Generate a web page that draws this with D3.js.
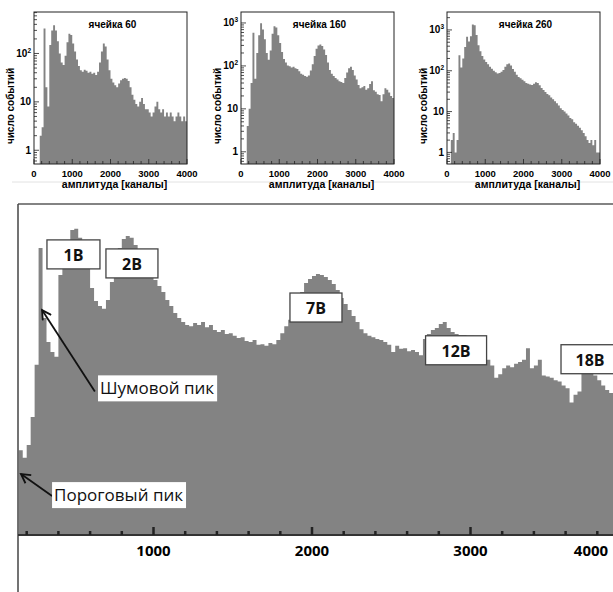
<!DOCTYPE html>
<html>
<head>
<meta charset="utf-8">
<script src="https://cdn.jsdelivr.net/npm/d3@7"></script>
<style>
  body { margin: 0; background: #fff; }
  svg { display: block; }
</style>
</head>
<body>
<svg width="613" height="592"></svg>
<script>
// ---- data ----
// small panels: 50-channel bins from 0 to 4000
const smallBinWidth = 50;
const cell60 = [
  0, 0, 0, 2, 3, 330, 20, 8, 150, 300,
  385, 300, 180, 100, 65, 58, 90, 170, 255, 240,
  160, 110, 75, 55, 45, 42, 46, 44, 40, 42,
  38, 40, 36, 42, 65, 110, 160, 140, 75, 45,
  30, 25, 22, 20, 24, 28, 30, 31, 30, 27,
  20, 14, 11, 9, 8, 10, 12, 9, 7, 7,
  6, 5, 6, 8, 10, 7, 6, 7, 5, 6,
  5, 6, 5, 4, 5, 6, 5, 4, 5, 4
];
const cell160 = [
  0, 0, 0, 4, 10, 40, 590, 50, 200, 520,
  980, 700, 420, 200, 140, 230, 560, 840, 780, 520,
  340, 210, 145, 120, 102, 98, 92, 95, 88, 85,
  75, 66, 62, 58, 56, 60, 78, 110, 170, 250,
  300, 315, 290, 240, 180, 120, 80, 66, 58, 52,
  48, 44, 42, 40, 52, 70, 88, 96, 80, 60,
  48, 36, 30, 32, 34, 28, 30, 38, 44, 27,
  25, 22, 21, 15, 22, 30, 28, 24, 20, 18
];
const cell260 = [
  0, 0, 2, 3, 1, 2, 240, 120, 200, 380,
  680, 520, 700, 1350, 1300, 750, 420, 300, 230, 190,
  165, 145, 125, 112, 100, 92, 86, 88, 95, 105,
  125, 145, 150, 135, 110, 95, 80, 70, 66, 60,
  55, 50, 48, 46, 45, 48, 52, 50, 44, 38,
  34, 30, 27, 25, 22, 20, 18, 16, 14, 12,
  11, 10, 9, 8, 7, 6.5, 5.5, 5, 4.5, 4,
  3.5, 3, 2.5, 2, 1.7, 2, 1.5, 2, 1, 1
];
const panelTitles = ["ячейка 60", "ячейка 160", "ячейка 260"];
const panelYMax = [720, 1800, 2750];
const panelYTicks = [[1, 10, 100], [1, 10, 100, 1000], [1, 10, 100, 1000]];
const smallXTicks = [0, 1000, 2000, 3000, 4000];

// big panel: 25-channel bins starting at channel 150
const bigBinStart = 150;
const bigBinWidth = 25;
const bigCounts = [
  7.0, 5.9, 7.9, 15, 50, 729, 146, 84, 67, 60,
  392, 580, 781, 1102, 1130, 920, 665, 461, 291, 216,
  192, 180, 221, 334, 493, 729, 897, 961, 920, 781,
  621, 528, 461, 392, 350, 305, 265, 221, 192, 164,
  146, 133, 124, 121, 130, 124, 133, 118, 124, 111,
  106, 111, 101, 103, 97, 92, 94, 86, 84, 88,
  79, 80, 77, 82, 80, 88, 103, 121, 140, 168,
  211, 265, 326, 358, 383, 401, 392, 375, 350, 319,
  278, 231, 201, 175, 153, 133, 113, 103, 97, 94,
  90, 88, 84, 79, 67, 77, 72, 73, 68, 70,
  67, 62, 90, 101, 111, 116, 127, 133, 116, 106,
  101, 99, 99, 97, 97, 94, 88, 53, 56, 49,
  37, 40, 46, 49, 47, 51, 53, 56, 73, 46,
  49, 56, 39, 38, 37, 35, 34, 31, 29, 21,
  25, 27, 42, 42, 41, 39, 35, 31, 28, 26
];
const bigMajorTicks = [1000, 2000, 3000, 4000];

// annotation boxes on the big panel
const peakLabels = ["1В", "2В", "7В", "12В", "18В"];
const peakChannel = [495, 864, 2025, 2909, 3754];   // box centre
const peakTopCount = [877, 713, 259, 97, 79];        // box top
const peakBoxWidth = [53, 52, 52, 61, 58];

const calloutTexts = ["Шумовой пик", "Пороговый пик"];
const calloutChannel = [650, 360];     // left edge of text box
const calloutCount = [29, 2.5];        // text centre
const arrowTipChannel = [297, 164];
const arrowTipCount = [175, 4.06];
const arrowFromChannel = [630, 360];
const arrowFromCount = [27, 2.45];

const svg = d3.select("svg");
const histColor = "#838383";

// ---------- small panels ----------
const smallLeft = [34, 241, 447], smallRight = [187, 394, 600];
const smallTop = 12, smallBottom = 164;
const smallData = [cell60, cell160, cell260];

// faint separator line under the small panels
svg.append("line")
  .attr("x1", 12).attr("x2", 613).attr("y1", 182).attr("y2", 182)
  .attr("stroke", "#e2e2e2").attr("stroke-width", 1);

smallData.forEach((counts, p) => {
  const g = svg.append("g");
  const x = d3.scaleLinear().domain([0, 4000]).range([smallLeft[p], smallRight[p]]);
  const y = d3.scaleLog().domain([0.52, panelYMax[p]]).range([smallBottom, smallTop]).clamp(true);

  const clipId = "clip" + p;
  g.append("clipPath").attr("id", clipId).append("rect")
    .attr("x", smallLeft[p]).attr("y", smallTop)
    .attr("width", smallRight[p] - smallLeft[p]).attr("height", smallBottom - smallTop);

  const pts = counts.map((v, i) => [i * smallBinWidth, v]);
  pts.push([counts.length * smallBinWidth, counts[counts.length - 1]]);
  const area = d3.area()
    .x(d => x(d[0]))
    .y0(smallBottom)
    .y1(d => y(Math.max(d[1], 0.52)))
    .curve(d3.curveStepAfter);
  g.append("path")
    .attr("clip-path", `url(#${clipId})`)
    .attr("d", area(pts))
    .attr("fill", histColor);

  // frame
  g.append("rect")
    .attr("x", smallLeft[p]).attr("y", smallTop)
    .attr("width", smallRight[p] - smallLeft[p]).attr("height", smallBottom - smallTop)
    .attr("fill", "none").attr("stroke", "#222").attr("stroke-width", 1);

  // y ticks (log, inside)
  const minor = [];
  for (let dec = 0.1; dec < panelYMax[p]; dec *= 10) {
    for (let m = 1; m < 10; m++) {
      const v = dec * m;
      if (v >= 0.52 && v <= panelYMax[p]) minor.push(v);
    }
  }
  g.selectAll(".ytick").data(minor).enter().append("line")
    .attr("x1", smallLeft[p]).attr("x2", d => smallLeft[p] + (panelYTicks[p].includes(d) ? 5 : 3))
    .attr("y1", d => y(d)).attr("y2", d => y(d))
    .attr("stroke", "#222").attr("stroke-width", 0.8);

  const yl = g.selectAll(".ylab").data(panelYTicks[p]).enter().append("text")
    .attr("x", smallLeft[p] - 3).attr("y", d => y(d) + 3.5)
    .attr("text-anchor", "end")
    .attr("font-family", "Liberation Sans, Arial, sans-serif")
    .attr("font-weight", "bold").attr("font-size", 10);
  yl.each(function (d) {
    const t = d3.select(this);
    if (d < 100) t.text(d);
    else {
      t.append("tspan").text("10");
      t.append("tspan").attr("dy", -4).attr("font-size", 6.5).text(Math.round(Math.log10(d)));
    }
  });

  // x ticks
  const xMinor = d3.range(0, 4001, 200);
  g.selectAll(".xtick").data(xMinor).enter().append("line")
    .attr("x1", d => x(d)).attr("x2", d => x(d))
    .attr("y1", smallBottom).attr("y2", d => smallBottom - (d % 1000 === 0 ? 5 : 3))
    .attr("stroke", "#222").attr("stroke-width", 0.8);
  g.selectAll(".xlab").data(smallXTicks).enter().append("text")
    .attr("x", d => x(d)).attr("y", 177)
    .attr("text-anchor", "middle")
    .attr("font-family", "Liberation Sans, Arial, sans-serif")
    .attr("font-weight", "bold").attr("font-size", 9.5)
    .text(d => d);

  const cx = (smallLeft[p] + smallRight[p]) / 2;
  g.append("text")
    .attr("x", cx + 4).attr("y", 188)
    .attr("text-anchor", "middle")
    .attr("font-family", "Liberation Sans, Arial, sans-serif")
    .attr("font-weight", "bold").attr("font-size", 10.5)
    .text("амплитуда [каналы]");

  g.append("text")
    .attr("x", cx + 2).attr("y", 28)
    .attr("text-anchor", "middle")
    .attr("font-family", "Liberation Sans, Arial, sans-serif")
    .attr("font-weight", "bold").attr("font-size", 10)
    .text(panelTitles[p]);

  g.append("text")
    .attr("transform", `translate(${smallLeft[p] - 20},106) rotate(-90)`)
    .attr("text-anchor", "middle")
    .attr("font-family", "Liberation Sans, Arial, sans-serif")
    .attr("font-weight", "bold").attr("font-size", 10)
    .text("число событий");
});

// ---------- big panel ----------
const bL = 18, bR = 613, bT = 204, bB = 535;
const bx = d3.scaleLinear().domain([0, 4000]).range([-5, 629]);
const by = d3.scaleLog().domain([1, 2000]).range([bB, bT]).clamp(true);

const big = svg.append("g");
big.append("clipPath").attr("id", "bigclip").append("rect")
  .attr("x", bL).attr("y", bT).attr("width", bR - bL).attr("height", bB - bT);

const bigPts = bigCounts.map((v, i) => [bigBinStart + i * bigBinWidth, v]);
bigPts.push([bigBinStart + bigCounts.length * bigBinWidth, bigCounts[bigCounts.length - 1]]);
big.append("path")
  .attr("clip-path", "url(#bigclip)")
  .attr("d", d3.area()
    .x(d => bx(d[0]))
    .y0(bB)
    .y1(d => by(d[1]))
    .curve(d3.curveStepAfter)(bigPts))
  .attr("fill", histColor);

// frame: top and left
big.append("line").attr("x1", bL).attr("x2", bR).attr("y1", bT).attr("y2", bT)
  .attr("stroke", "#5a5a5a").attr("stroke-width", 1.5);
big.append("line").attr("x1", bL).attr("x2", bL).attr("y1", bT).attr("y2", 592)
  .attr("stroke", "#444").attr("stroke-width", 1.5);

// x axis
big.append("line").attr("x1", bL).attr("x2", bR).attr("y1", bB).attr("y2", bB)
  .attr("stroke", "#333").attr("stroke-width", 2);
const minorTicks = d3.range(200, 4000, 200).filter(v => bx(v) > bL && bx(v) < bR);
big.selectAll(".bt").data(minorTicks).enter().append("line")
  .attr("x1", d => bx(d)).attr("x2", d => bx(d))
  .attr("y1", bB).attr("y2", d => bB - (d % 1000 === 0 ? 8 : 4))
  .attr("stroke", "#222").attr("stroke-width", 2.5);
big.selectAll(".bl").data(bigMajorTicks).enter().append("text")
  .attr("x", d => Math.min(bx(d), 591)).attr("y", 556)
  .attr("text-anchor", "middle")
  .attr("font-family", "Open Sans, Noto Sans, sans-serif")
  .attr("font-weight", "bold").attr("font-size", 15)
  .text(d => d);

// arrows
const defs = svg.append("defs");
defs.append("marker").attr("id", "arr")
  .attr("viewBox", "-10 -6 12 12").attr("refX", 0).attr("refY", 0)
  .attr("markerWidth", 12).attr("markerHeight", 12)
  .attr("markerUnits", "userSpaceOnUse")
  .attr("orient", "auto")
  .append("path").attr("d", "M-9,-5 L0,0 L-9,5")
  .attr("fill", "none").attr("stroke", "#111").attr("stroke-width", 1.8);

calloutTexts.forEach((t, i) => {
  big.append("line")
    .attr("x1", bx(arrowFromChannel[i])).attr("y1", by(arrowFromCount[i]))
    .attr("x2", bx(arrowTipChannel[i])).attr("y2", by(arrowTipCount[i]))
    .attr("stroke", "#111").attr("stroke-width", 1.8)
    .attr("marker-end", "url(#arr)");
  const tx = bx(calloutChannel[i]), ty = by(calloutCount[i]);
  const txt = big.append("text")
    .attr("x", tx + 2).attr("y", ty + 6)
    .attr("font-family", "Open Sans, Noto Sans, sans-serif")
    .attr("font-size", 17).attr("fill", "#111")
    .text(t);
  const w = txt.node().getComputedTextLength();
  big.insert("rect", () => txt.node())
    .attr("x", tx).attr("y", ty - 13).attr("width", w + 5).attr("height", 26)
    .attr("fill", "#fff");
});

// peak boxes
peakLabels.forEach((lab, i) => {
  const cx = bx(peakChannel[i]), top = by(peakTopCount[i]);
  big.append("rect")
    .attr("x", cx - peakBoxWidth[i] / 2).attr("y", top)
    .attr("width", peakBoxWidth[i]).attr("height", 29)
    .attr("fill", "#fff").attr("stroke", "#444").attr("stroke-width", 1.3);
  big.append("text")
    .attr("x", cx).attr("y", top + 21)
    .attr("text-anchor", "middle")
    .attr("font-family", "Open Sans, Noto Sans, sans-serif")
    .attr("font-weight", "bold").attr("font-size", 16).attr("fill", "#111")
    .text(lab);
});
</script>
</body>
</html>
